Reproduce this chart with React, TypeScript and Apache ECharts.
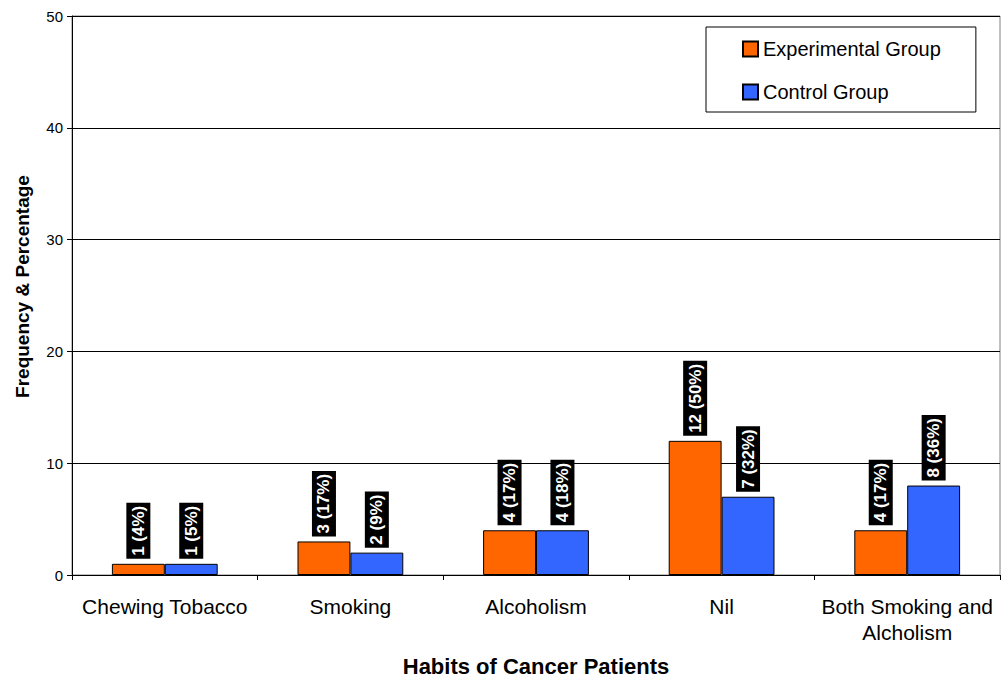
import React, { useEffect, useRef } from "react";
import * as echarts from "echarts";

const categories = [
  "Chewing Tobacco",
  "Smoking",
  "Alcoholism",
  "Nil",
  "Both Smoking and\nAlcholism",
];
const experimental = [1, 3, 4, 12, 4];
const experimentalPct = [4, 17, 17, 50, 17];
const control = [1, 2, 4, 7, 8];
const controlPct = [5, 9, 18, 32, 36];
const yTicks = { min: 0, max: 50, interval: 10 };

const FONT = "Arial, 'Liberation Sans', sans-serif";

const valueLabel = (pcts: number[]) => ({
  show: true,
  position: "top" as const,
  distance: 5,
  rotate: 90,
  align: "left" as const,
  verticalAlign: "middle" as const,
  color: "#fff",
  backgroundColor: "#000",
  padding: [3, 3],
  fontFamily: FONT,
  fontWeight: "bold" as const,
  fontSize: 17,
  lineHeight: 18,
  formatter: (p: any) => `${p.value} (${pcts[p.dataIndex]}%)`,
});

export default function App() {
  const ref = useRef<HTMLDivElement>(null);

  useEffect(() => {
    if (!ref.current) return;
    const chart = echarts.init(ref.current, null, { renderer: "svg" });
    chart.setOption({
      animation: false,
      backgroundColor: "#fff",
      textStyle: { fontFamily: FONT, color: "#000" },
      grid: {
        left: 72,
        right: 2,
        top: 16,
        bottom: 106,
        containLabel: false,
        outerBoundsMode: "none",
        show: true,
        borderColor: "#808080",
        borderWidth: 1,
      },
      legend: {
        orient: "vertical",
        left: 706,
        top: 27,
        padding: [12, 35, 10, 36],
        itemGap: 23,
        icon: "rect",
        itemWidth: 15,
        itemHeight: 15,
        borderColor: "#000",
        borderWidth: 1,
        backgroundColor: "#fff",
        textStyle: { fontFamily: FONT, fontSize: 20, lineHeight: 20, color: "#000" },
        data: ["Experimental Group", "Control Group"],
      },
      xAxis: {
        type: "category",
        data: categories,
        name: "Habits of Cancer Patients",
        nameLocation: "middle",
        nameGap: 80,
        nameMoveOverlap: false,
        nameTextStyle: { fontFamily: FONT, fontSize: 22, fontWeight: "bold", color: "#000" },
        axisLine: { lineStyle: { color: "#000", width: 1 } },
        axisTick: { show: true, length: 5, lineStyle: { color: "#000" } },
        axisLabel: {
          fontFamily: FONT,
          fontSize: 21,
          lineHeight: 26,
          color: "#000",
          margin: 18,
          interval: 0,
        },
      },
      yAxis: {
        type: "value",
        min: yTicks.min,
        max: yTicks.max,
        interval: yTicks.interval,
        name: "Frequency & Percentage",
        nameLocation: "middle",
        nameGap: 40,
        nameMoveOverlap: false,
        nameTextStyle: {
          fontFamily: FONT,
          fontSize: 19,
          fontWeight: "bold",
          color: "#000",
          padding: [0, 0, 0, 18],
        },
        axisLine: { show: true, lineStyle: { color: "#000", width: 1 } },
        axisTick: { show: true, length: 5, lineStyle: { color: "#000" } },
        axisLabel: { fontFamily: FONT, fontSize: 15, color: "#000", margin: 9 },
        splitLine: { show: true, lineStyle: { color: "#000", width: 1 } },
      },
      series: [
        {
          name: "Experimental Group",
          type: "bar",
          data: experimental,
          barGap: "0%",
          barCategoryGap: "43%",
          itemStyle: { color: "#FF6600", borderColor: "#000", borderWidth: 1 },
          label: valueLabel(experimentalPct),
        },
        {
          name: "Control Group",
          type: "bar",
          data: control,
          itemStyle: { color: "#3366FF", borderColor: "#000", borderWidth: 1 },
          label: valueLabel(controlPct),
        },
      ],
    });
    return () => chart.dispose();
  }, []);

  return (
    <div
      ref={ref}
      style={{ position: "fixed", left: 0, top: 0, width: 1002, height: 681 }}
    />
  );
}
